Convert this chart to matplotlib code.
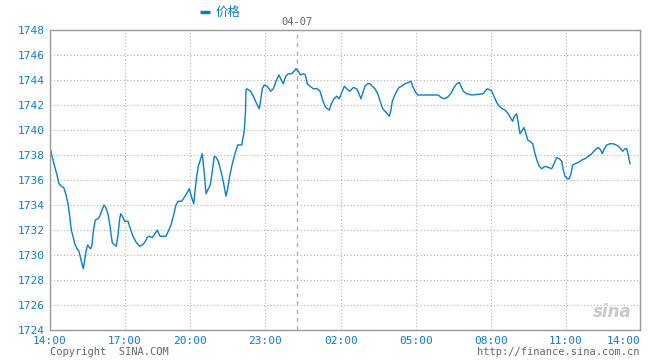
import matplotlib
matplotlib.use("Agg")
import matplotlib.pyplot as plt
from matplotlib.lines import Line2D

# position along the time axis (0 = 14:00, 590 = 14:00 next day) and price
t = [0.7, 2, 4.7, 7.3, 9, 11.3, 13.7, 15.7, 18, 19.7, 21.3, 23, 24.7, 27, 29, 31.3,
     33.3, 34.7, 36.3, 37.7, 39.3, 40.7, 42, 43.3, 45.3, 48, 49.7, 52, 54, 55.7, 58,
     60, 61.3, 62.3, 64.7, 66.3, 68, 69.7, 70.7, 73, 74.7, 78, 80.7, 83, 86.3, 89.7,
     92.3, 94.7, 97.3, 99, 102.3, 105, 107.3, 110, 113.3, 116, 118.3, 121, 123.3, 126,
     128.3, 131.7, 135, 137.3, 139.3, 141, 143.7, 145, 146.7, 148.3, 150.3, 152.3,
     154.3, 156, 158.3, 160.3, 162.3, 164.3, 166.3, 168.3, 171, 173.7, 176, 177.7,
     179.7, 182.3, 185, 187.7, 191.7, 193.3, 194.3, 195.5, 196, 196.7, 200.7, 203.3,
     206.7, 209.3, 210.7, 212.3, 214.3, 217.3, 220.7, 223.3, 226, 229, 230.7, 233.3,
     235.7, 238.3, 241.7, 244, 246, 248.3, 250.7, 253.3, 255.3, 257.3, 260, 263.3,
     267.3, 270, 272.7, 275, 277.3, 279.3, 281.3, 284, 286.7, 289.3, 292.3, 294.3,
     296.7, 299.7, 303.3, 306.7, 309, 311, 313, 315, 317.7, 320, 322.3, 325, 327.7,
     329.3, 331, 332.7, 335, 337.3, 339.3, 340.7, 342.3, 344.3, 346.7, 349, 351.7,
     355, 358.3, 361, 362.7, 365, 367.7, 378.3, 388.3, 391, 394.3, 397.3, 400.7, 404,
     406.7, 409.3, 411, 413.3, 416.7, 421.7, 433.3, 435, 437.3, 440, 441.7, 444,
     446.7, 449.3, 452, 455, 458.3, 461, 462.7, 464.3, 466.7, 468.3, 470, 471.7, 474,
     476, 477.7, 480, 482.7, 485, 487.3, 489.3, 491.7, 495, 498.3, 501.7, 504, 506.7,
     509.3, 511.7, 513.3, 515, 517.3, 519.3, 521, 522.7, 525, 528.3, 531.7, 535,
     538.3, 541.7, 545, 548.3, 550.7, 552.3, 554.3, 556.7, 560, 563.3, 566, 568.3,
     570.7, 572.7, 575, 576.7, 578.3, 580]
price = [1738.4, 1737.9, 1737.1, 1736.3, 1735.7, 1735.5, 1735.4, 1734.9, 1734.1,
         1733.1, 1732.0, 1731.5, 1730.9, 1730.5, 1730.3, 1729.5, 1728.9, 1729.6,
         1730.4, 1730.8, 1730.6, 1730.5, 1730.8, 1731.9, 1732.8, 1732.9, 1733.1,
         1733.6, 1734.0, 1733.8, 1733.3, 1732.3, 1731.5, 1731.0, 1730.8, 1730.7,
         1731.6, 1732.9, 1733.3, 1733.0, 1732.7, 1732.7, 1732.0, 1731.5, 1731.0,
         1730.7, 1730.8, 1731.0, 1731.4, 1731.5, 1731.4, 1731.7, 1732.0, 1731.5,
         1731.5, 1731.5, 1731.9, 1732.4, 1733.1, 1734.0, 1734.3, 1734.3, 1734.7,
         1735.0, 1735.3, 1734.8, 1734.1, 1735.1, 1736.3, 1737.1, 1737.6, 1738.1,
         1736.5, 1734.9, 1735.3, 1735.6, 1736.7, 1737.9, 1737.8, 1737.5, 1736.7,
         1735.7, 1734.7, 1735.3, 1736.3, 1737.3, 1738.1, 1738.8, 1738.8, 1739.5,
         1740.0, 1741.5, 1743.2, 1743.3, 1743.1, 1742.7, 1742.1, 1741.7, 1742.4,
         1743.3, 1743.6, 1743.5, 1743.1, 1743.3, 1743.9, 1744.4, 1744.1, 1743.7,
         1744.3, 1744.5, 1744.5, 1744.7, 1744.9, 1744.7, 1744.4, 1744.5, 1744.4,
         1743.7, 1743.5, 1743.3, 1743.3, 1743.1, 1742.4, 1741.9, 1741.7, 1741.6,
         1742.1, 1742.5, 1742.7, 1742.5, 1743.1, 1743.5, 1743.3, 1743.1, 1743.4,
         1743.3, 1742.9, 1742.5, 1743.0, 1743.5, 1743.7, 1743.7, 1743.5, 1743.3,
         1742.9, 1742.5, 1742.1, 1741.7, 1741.5, 1741.3, 1741.1, 1741.5, 1742.3,
         1742.7, 1743.1, 1743.4, 1743.5, 1743.7, 1743.8, 1743.9, 1743.5, 1743.1,
         1742.8, 1742.8, 1742.8, 1742.6, 1742.5, 1742.6, 1742.9, 1743.4, 1743.7,
         1743.8, 1743.5, 1743.1, 1742.9, 1742.8, 1742.9, 1743.1, 1743.3, 1743.2,
         1743.1, 1742.7, 1742.2, 1741.9, 1741.7, 1741.6, 1741.3, 1740.9, 1740.7,
         1741.1, 1741.3, 1740.5, 1739.7, 1739.9, 1740.2, 1739.7, 1739.2, 1739.1,
         1738.9, 1738.1, 1737.5, 1737.1, 1736.9, 1737.1, 1737.0, 1736.9, 1737.3,
         1737.8, 1737.7, 1737.5, 1736.8, 1736.3, 1736.1, 1736.1, 1736.5, 1737.2,
         1737.3, 1737.4, 1737.6, 1737.7, 1737.9, 1738.1, 1738.4, 1738.6, 1738.4,
         1738.1, 1738.5, 1738.8, 1738.9, 1738.9, 1738.8, 1738.7, 1738.5, 1738.3,
         1738.5, 1738.5, 1738.0, 1737.3]

xtick_pos = [0, 75, 140, 215, 291, 366, 441, 516, 590]
xtick_labels = ["14:00", "17:00", "20:00", "23:00", "02:00", "05:00", "08:00", "11:00", "14:00"]
yticks = list(range(1724, 1749, 2))
day_pos = 247
day_label = "04-07"

blue = "#0a7dcc"
grid_c = "#b0b0b0"
mono = "DejaVu Sans Mono"

fig = plt.figure(figsize=(6.6, 3.6), dpi=100)
ax = fig.add_axes([50 / 660, 30 / 360, 590 / 660, 300 / 360])

ax.plot(t, price, color=blue, lw=1.0)
ax.set_xlim(0, 590)
ax.set_ylim(1724, 1748)

for y in yticks[1:-1]:
    ax.axhline(y, color=grid_c, lw=0.8, ls=(0, (1, 2)), zorder=0)
for x in xtick_pos[1:-1]:
    ax.axvline(x, color=grid_c, lw=0.8, ls=(0, (1, 2)), zorder=0)
ax.axvline(day_pos, color=grid_c, lw=1.0, ls=(0, (3, 3)), zorder=0)

for s in ax.spines.values():
    s.set_color("#999999")
    s.set_linewidth(1.0)

ax.set_yticks(yticks)
ax.set_yticklabels([str(v) for v in yticks], color=blue, fontsize=8, family=mono)
ax.set_xticks(xtick_pos)
ax.set_xticklabels(xtick_labels, color=blue, fontsize=8, family=mono)
ax.tick_params(length=0, pad=4)
ax.get_xticklabels()[-1].set_horizontalalignment("right")

# legend / header
fig.add_artist(Line2D([200 / 660, 210 / 660], [1 - 12 / 360, 1 - 12 / 360],
                      color=blue, lw=2.5, solid_capstyle="butt"))
fig.text(216 / 660, 1 - 12 / 360, "价格", color=blue, fontsize=9,
         family=["Noto Sans CJK SC", "DejaVu Sans"], va="center", ha="left")
fig.text(297 / 660, 1 - 22 / 360, day_label, color="#666666", fontsize=7.5,
         family=mono, va="center", ha="center")

# footer
fig.text(50 / 660, 1 - 352 / 360, "Copyright  SINA.COM", color="#666666", fontsize=7.5,
         family=mono, va="center", ha="left")
fig.text(640 / 660, 1 - 352 / 360, "http://finance.sina.com.cn", color="#666666",
         fontsize=7.5, family=mono, va="center", ha="right")

# watermark
ax.text(0.985, 0.03, "sina", transform=ax.transAxes, color="#c8c8c8", fontsize=12,
        fontweight="bold", style="italic", ha="right", va="bottom")

fig.savefig("out.png", dpi=100)
